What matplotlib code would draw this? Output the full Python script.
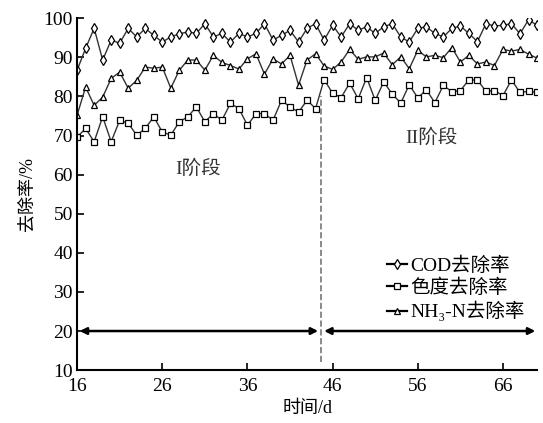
import matplotlib.pyplot as plt
from matplotlib.lines import Line2D

plt.rcParams["font.family"] = ["Liberation Serif", "Noto Sans CJK SC"]
plt.rcParams["font.size"] = 12

days = list(range(16, 71))

cod = [86.7, 92.3, 97.4, 89.3, 94.4, 93.6, 97.4, 95.2, 97.4, 95.6,
       93.9, 95.2, 96.0, 96.5, 96.1, 98.6, 95.2, 96.1, 93.9, 96.1,
       95.2, 96.1, 98.6, 94.4, 95.6, 96.9, 93.9, 97.4, 98.6, 94.4,
       98.2, 95.2, 98.6, 96.9, 97.8, 96.1, 97.8, 98.6, 95.2, 93.9,
       97.4, 97.8, 96.1, 95.2, 97.4, 98.0, 96.1, 94.0, 98.6, 98.0,
       98.2, 98.6, 96.0, 99.6, 98.2]

color = [69.6, 71.8, 68.4, 74.8, 68.4, 73.9, 73.1, 70.1, 71.8, 74.8,
         70.9, 70.1, 73.5, 74.8, 77.3, 73.5, 75.6, 73.9, 78.2, 76.9,
         72.6, 75.6, 75.6, 73.9, 79.0, 77.3, 76.0, 79.0, 76.9, 84.3,
         80.8, 79.7, 83.4, 79.4, 84.8, 79.0, 83.7, 80.6, 78.3, 83.0,
         79.6, 81.7, 78.4, 82.8, 81.2, 81.5, 84.2, 84.2, 81.3, 81.5,
         80.2, 84.2, 81.0, 81.3, 81.0]

nh3 = [75.2, 82.4, 77.7, 79.8, 84.6, 86.2, 82.1, 84.1, 87.5, 87.2,
       87.5, 82.1, 86.7, 89.3, 89.3, 86.7, 90.5, 88.7, 87.9, 87.0,
       89.6, 90.9, 85.7, 89.6, 88.3, 90.5, 82.9, 89.3, 90.9, 87.8,
       86.9, 88.8, 92.0, 89.5, 90.1, 90.1, 91.1, 88.1, 90.1, 87.1,
       91.8, 90.1, 90.5, 89.9, 92.5, 88.8, 90.5, 88.3, 88.8, 87.9,
       92.0, 91.6, 92.0, 90.8, 89.8]

labels = ["COD去除率", "色度去除率", "NH₃-N去除率"]
split_day = 44.6

fig = plt.figure(figsize=(5.43, 4.23), dpi=100)
ax = fig.add_axes([0.142, 0.125, 0.847, 0.832])

mk = dict(markerfacecolor="white", markeredgecolor="black", markeredgewidth=0.9,
          color="#333333", linewidth=1.0)
ax.plot(days, cod, marker="d", markersize=5, **mk)
ax.plot(days, color, marker="s", markersize=4.5, **mk)
ax.plot(days, nh3, marker="^", markersize=5, **mk)

ax.plot([split_day, split_day], [12, 80], color="#777777", linestyle="--", linewidth=1.2)

arrow = dict(arrowstyle="<|-|>", color="black", lw=1.8, mutation_scale=10, shrinkA=0, shrinkB=0)
ax.annotate("", xy=(16.3, 20), xytext=(split_day - 0.3, 20), arrowprops=arrow)
ax.annotate("", xy=(split_day + 0.4, 20), xytext=(69.8, 20), arrowprops=arrow)

ax.text(30.2, 61.5, "I阶段", fontsize=14, ha="center", va="center", color="#333333")
ax.text(57.6, 69.5, "II阶段", fontsize=14, ha="center", va="center", color="#333333")

handles = [
    Line2D([], [], marker="d", markersize=5, **mk),
    Line2D([], [], marker="s", markersize=4.5, **mk),
    Line2D([], [], marker="^", markersize=5, **mk),
]
for h in handles:
    h.set_color("black")
    h.set_linewidth(1.6)
ax.legend(handles, labels, loc="lower left",
          bbox_to_anchor=(0.645, 0.1), frameon=False, fontsize=14, handlelength=1.0,
          handletextpad=0.2, labelspacing=0.2, borderpad=0.2)

ax.set_xlim(16, 70)
ax.set_ylim(10, 100)
ax.set_xticks([16, 26, 36, 46, 56, 66])
ax.set_yticks(range(10, 101, 10))
ax.tick_params(direction="in", length=5, width=1.2, labelsize=14)
ax.tick_params(axis="x", pad=6)
ax.tick_params(axis="y", pad=3)
for s in ["top", "right"]:
    ax.spines[s].set_visible(False)
for s in ["left", "bottom"]:
    ax.spines[s].set_linewidth(1.5)

ax.set_xlabel("时间/d", fontsize=13, labelpad=3)
ax.set_ylabel("去除率/%", fontsize=13, labelpad=6)

fig.savefig("out.png", dpi=100)
